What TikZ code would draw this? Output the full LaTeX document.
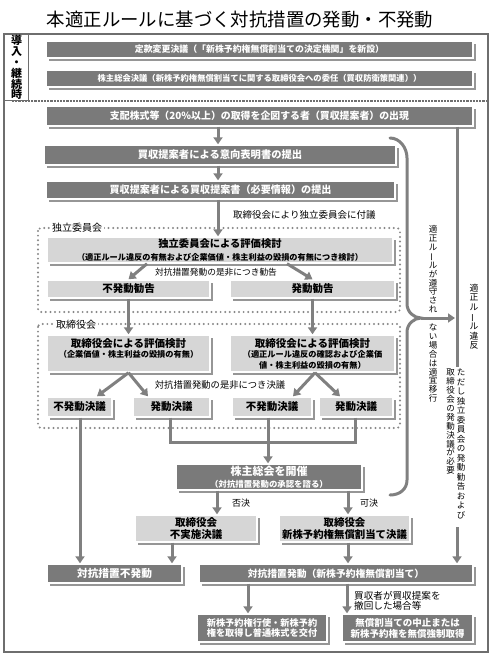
\documentclass[tikz,border=0pt]{standalone}
\usepackage{fontspec}
\setmainfont{Noto Sans CJK JP}
\usepackage{graphicx}
\usetikzlibrary{arrows.meta,shadows}
\definecolor{boxdark}{RGB}{122,122,122}
\definecolor{boxlight}{RGB}{214,214,214}
\definecolor{shadowgray}{RGB}{150,150,150}
\definecolor{arrowgray}{RGB}{128,128,128}
\definecolor{dotgray}{RGB}{135,135,135}
\definecolor{framegray}{RGB}{110,110,110}
\newcommand\vbar{\rotatebox[origin=c]{90}{ー}}
\newcommand\fsz[2]{\fontsize{#1}{#2}\selectfont}
\tikzset{
 dbox/.style={draw=white, line width=1.4pt, fill=boxdark, text=white, inner sep=0pt, align=center,
   drop shadow={shadow xshift=2.8pt, shadow yshift=-2.8pt, fill=shadowgray, opacity=1}},
 lbox/.style={dbox, fill=boxlight, text=black},
 arr/.style={draw=arrowgray, line width=3pt, -{Triangle[width=9pt,length=7pt]}},
 ln/.style={draw=arrowgray, line width=3pt},
 dotframe/.style={draw=dotgray, line width=2.2pt, line cap=round, dash pattern=on 0pt off 4.6pt, rounded corners=3pt},
 lbl/.style={inner sep=0pt},
 vt/.style={inner sep=0pt, align=center},
 flabel/.style={fill=white, inner sep=1.5pt, font=\fsz{10}{12}},
}
\begin{document}
\lineskiplimit=-\maxdimen
\begin{tikzpicture}[x=1pt,y=-1pt]
\useasboundingbox (0,0) rectangle (490,655);
\fill[white] (0,0) rectangle (490,655);
% title and frame
\node[inner sep=0pt, font=\fsz{18.4}{20}] (title) at (240,20) {本適正ルールに基づく対抗措置の発動・不発動};
\draw[draw=framegray, line width=1.3pt] (4,34) rectangle (488,652);
\node[draw=framegray, line width=1.3pt, fill=white, anchor=north west, minimum width=24pt, minimum height=66pt,
  inner sep=0pt, align=center, font=\bfseries\fsz{11}{10.8}] (intro) at (4,34) {導\\入\\・\\継\\続\\時};
\draw[draw=framegray, line width=2pt, dash pattern=on 2.2pt off 1pt] (12,101) -- (487,101);

% x reference coordinates
\coordinate (Xa) at (218,0);
\coordinate (Xb) at (147,0);
\coordinate (Xc) at (287,0);
\coordinate (Xd) at (97,0);
\coordinate (Xe) at (148,0);
\coordinate (Xf) at (315,0);
\coordinate (Xg) at (293,0);
\coordinate (Xh) at (340,0);
\coordinate (Xi) at (170,0);
\coordinate (Xj) at (355,0);
\coordinate (Xk) at (268,0);
\coordinate (Xl) at (80,0);
\coordinate (Xm) at (217,0);
\coordinate (Xn) at (348,0);
\coordinate (Xo) at (172,0);
\coordinate (Xp) at (248,0);
\coordinate (Xq) at (347,0);
\coordinate (Xr) at (457,0);

% dotted frames
\draw[dotframe] (38,228) rectangle (400,312);
\node[flabel] (fr1) at (77,228) {独立委員会};
\draw[dotframe] (38,324) rectangle (400,428);
\node[flabel] (fr2) at (76,325) {取締役会};

% boxes
\node[dbox, minimum width=427pt, minimum height=17pt, font=\bfseries\fsz{8.9}{10}] (b1) at (259.5,49.5)
  {定款変更決議（「新株予約権無償割当ての決定機関」を新設）};
\node[dbox, minimum width=427pt, minimum height=17pt, font=\bfseries\fsz{8.3}{10}] (b2) at (259.5,78.5)
  {株主総会決議（新株予約権無償割当てに関する取締役会への委任（買収防衛策関連））};
\node[dbox, minimum width=427pt, minimum height=20pt, font=\bfseries\fsz{9.9}{11}] (b3) at (259.5,116)
  {支配株式等（20\%以上）の取得を企図する者（買収提案者）の出現};
\node[dbox, minimum width=352pt, minimum height=20pt, font=\bfseries\fsz{10.3}{11}] (b4) at (220,155)
  {買収提案者による意向表明書の提出};
\node[dbox, minimum width=349pt, minimum height=18pt, font=\bfseries\fsz{10.1}{11}] (b5) at (220.5,190)
  {買収提案者による買収提案書（必要情報）の提出};
\node[lbox, minimum width=346pt, minimum height=26pt, font=\bfseries\fsz{10.3}{12.5}] (b6) at (220,250)
  {独立委員会による評価検討\\{\fsz{8.17}{12.5}（適正ルール違反の有無および企業価値・株主利益の毀損の有無につき検討）}};
\node[lbox, minimum width=163pt, minimum height=18pt, font=\bfseries\fsz{10.5}{11}] (fk) at (128.5,289) {不発動勧告};
\node[lbox, minimum width=165pt, minimum height=18pt, font=\bfseries\fsz{10.5}{11}] (hk) at (312.5,289) {発動勧告};
\node[lbox, minimum width=163pt, minimum height=37pt, font=\bfseries\fsz{10.5}{10.5}] (tl) at (128.5,353.5)
  {取締役会による評価検討\\{\fsz{8.2}{10.5}（企業価値・株主利益の毀損の有無）}\\\mbox{}};
\node[lbox, minimum width=165pt, minimum height=37pt, font=\bfseries\fsz{10.5}{10.5}] (tr) at (312.5,353.5)
  {取締役会による評価検討\\{\fsz{8.2}{10.5}（適正ルール違反の確認および企業価}\\{\fsz{8.2}{10.5}値・株主利益の毀損の有無）}};
\node[lbox, minimum width=65pt, minimum height=20pt, font=\bfseries\fsz{10.5}{11}] (k1) at (79.5,407) {不発動決議};
\node[lbox, minimum width=77pt, minimum height=20pt, font=\bfseries\fsz{10.5}{11}] (k2) at (171.5,407) {発動決議};
\node[lbox, minimum width=80pt, minimum height=20pt, font=\bfseries\fsz{10.5}{11}] (k3) at (272,407) {不発動決議};
\node[lbox, minimum width=74pt, minimum height=20pt, font=\bfseries\fsz{10.5}{11}] (k4) at (356,407) {発動決議};
\node[dbox, minimum width=186pt, minimum height=26pt, font=\bfseries\fsz{11}{12}] (sk) at (269,477)
  {株主総会を開催\\{\fsz{8.4}{12}（対抗措置発動の承認を諮る）}};
\node[lbox, minimum width=122pt, minimum height=27pt, font=\bfseries\fsz{10.5}{11.5}] (fj) at (196,528.5)
  {取締役会\\不実施決議};
\node[lbox, minimum width=131pt, minimum height=27pt, font=\bfseries\fsz{10.4}{11.5}] (wr) at (344.5,528.5)
  {取締役会\\新株予約権無償割当て決議};
\node[dbox, minimum width=135pt, minimum height=19pt, font=\bfseries\fsz{10.7}{11}] (fh) at (114.5,573.5) {対抗措置不発動};
\node[dbox, minimum width=274pt, minimum height=19pt, font=\bfseries\fsz{9.8}{11}] (hd) at (336,573.5)
  {対抗措置発動（新株予約権無償割当て）};
\node[dbox, minimum width=130pt, minimum height=28pt, font=\bfseries\fsz{9.2}{10.8}] (kofu) at (262,628)
  {新株予約権行使・新株予約\\権を取得し普通株式を交付};
\node[dbox, minimum width=131pt, minimum height=28pt, font=\bfseries\fsz{9.5}{10.8}] (chushi) at (407.5,628)
  {無償割当ての中止または\\新株予約権を無償強制取得};

% labels
\node[lbl, anchor=west, font=\fsz{9.5}{11}] (l1) at (233,215) {取締役会により独立委員会に付議};
\node[lbl, font=\fsz{8.7}{10}] (l2) at (216,272.5) {対抗措置発動の是非につき勧告};
\node[lbl, font=\fsz{9.3}{10}] (l3) at (220,385) {対抗措置発動の是非につき決議};
\node[lbl, font=\fsz{9}{10}] (l4) at (241,503) {否決};
\node[lbl, font=\fsz{9}{10}] (l5) at (369,503) {可決};
\node[lbl, anchor=north west, align=left, font=\fsz{9.6}{10.5}] (l6) at (354,591) {買収者が買収提案を\\撤回した場合等};

% connectors
\draw[arr] (b3.south -| Xa) -- (b4.north -| Xa);
\draw[arr] (b4.south -| Xa) -- (b5.north -| Xa);
\draw[arr] (b5.south -| Xa) -- (b6.north -| Xa);
\draw[arr] (b6.south -| Xb) -- (fk.north);
\draw[arr] (b6.south -| Xc) -- (hk.north);
\draw[arr] (fk.south) -- (tl.north);
\draw[arr] (hk.south) -- (tr.north);
\draw[arr] (tl.south) -- (k1.north -| Xd);
\draw[arr] (tl.south) -- (k2.north -| Xe);
\draw[arr] (tr.south -| Xf) -- (k3.north -| Xg);
\draw[arr] (tr.south -| Xf) -- (k4.north -| Xh);
\coordinate (J) at (268,442);
\draw[ln] (k2.south -| Xi) |- (J);
\draw[ln] (k4.south -| Xj) |- (J);
\draw[arr] (k3.south -| Xk) -- (sk.north -| Xk);
\draw[arr] (k1.south -| Xl) -- (fh.north -| Xl);
\draw[arr] (sk.south -| Xm) -- (fj.north -| Xm);
\draw[arr] (sk.south -| Xn) -- (wr.north -| Xn);
\draw[arr] (fj.south -| Xo) -- (fh.north -| Xo);
\draw[arr] (wr.south -| Xn) -- (hd.north -| Xn);
\draw[arr] (hd.south -| Xp) -- (kofu.north -| Xp);
\draw[arr] (hd.south -| Xq) -- (chushi.north -| Xq);

% right side
\coordinate (R1) at (457,367);
\coordinate (R2) at (457,527);
\draw[ln] (b3.south -| Xr) -- (R1);
\draw[arr] (R2) -- (hd.north -| Xr);
\draw[ln, line cap=round] (390,138) .. controls (400,138) and (407,148) .. (407,158)
  -- (407,304) .. controls (407,312) and (414,318) .. (421,318)
  .. controls (414,318) and (407,324) .. (407,332)
  -- (407,480) .. controls (407,489) and (400,495) .. (390,495);
\coordinate (Bc) at (421,318);
\coordinate (R3) at (455,318);
\draw[arr] (Bc) -- (R3);

% vertical texts
\node[vt, font=\fsz{8.5}{8.9}] (v1) at (433,314)
  {適\\正\\ル\\\vbar\\ル\\が\\遵\\守\\さ\\れ\\\mbox{}\\な\\い\\場\\合\\は\\適\\宜\\移\\行};
\node[vt, font=\fsz{8.8}{9.6}] (v2) at (474,316.5) {適\\正\\ル\\\vbar\\ル\\違\\反};
\node[vt, anchor=north, font=\fsz{8.5}{9.5}] (v3) at (461,369)
  {た\\だ\\し\\独\\立\\委\\員\\会\\の\\発\\動\\勧\\告\\お\\よ\\び};
\node[vt, anchor=north, font=\fsz{8.5}{8.9}] (v4) at (450.5,369)
  {取\\締\\役\\会\\の\\発\\動\\決\\議\\が\\必\\要};
\end{tikzpicture}
\end{document}
